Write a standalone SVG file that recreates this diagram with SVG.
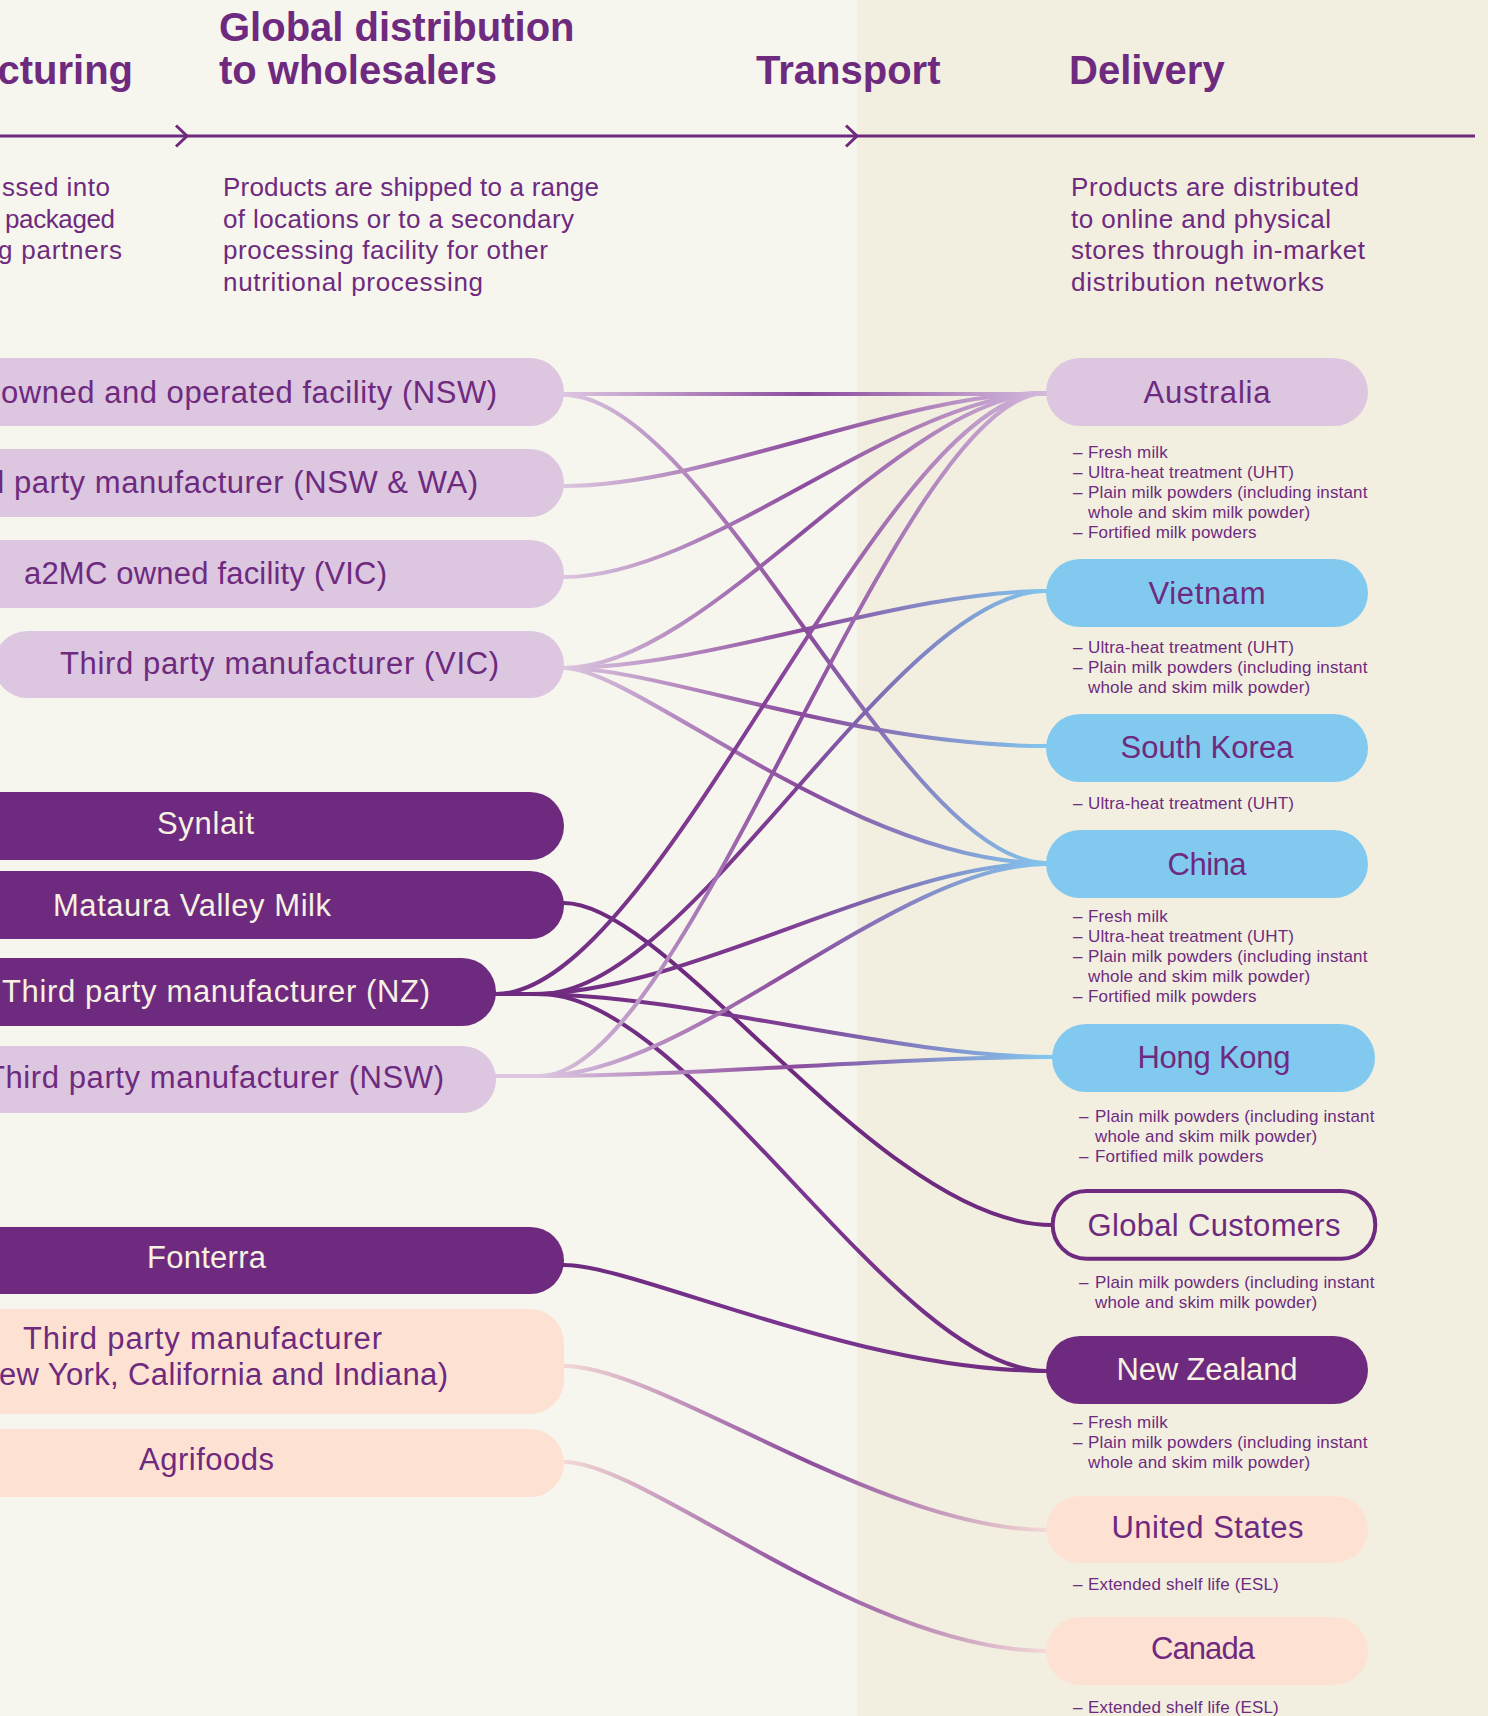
<svg xmlns="http://www.w3.org/2000/svg" width="1488" height="1716" viewBox="0 0 1488 1716">
<defs>
<style>
text{font-family:"Liberation Sans",Arial,sans-serif;fill:#6e2a7e}
.h{font-size:40px;font-weight:bold}
.d{font-size:26px}
.p{font-size:31px}
.pc{font-size:31px;fill:#f6f1e2}
.m{text-anchor:middle}
.li{font-size:17px;letter-spacing:0.15px}
.lav{fill:#dcc6e0}
.blue{fill:#82c9f0}
.dark{fill:#6e2a7e}
.peach{fill:#fde2d3}
.cn{fill:none;stroke-width:4}
.ax{fill:none;stroke:#6e2a7e;stroke-width:3}
</style>
<path id="chev" d="M-11,-10.5 L0,0 L-11,10.5"/>
<linearGradient id="gLL" gradientUnits="userSpaceOnUse" x1="564" y1="0" x2="1046" y2="0"><stop offset="0" stop-color="#dcc6e0"/><stop offset=".5" stop-color="#8b4b9d"/><stop offset="1" stop-color="#d3b9db"/></linearGradient>
<linearGradient id="gLB" gradientUnits="userSpaceOnUse" x1="564" y1="0" x2="1046" y2="0"><stop offset="0" stop-color="#dcc6e0"/><stop offset=".5" stop-color="#8b4b9d"/><stop offset="1" stop-color="#82c6ee"/></linearGradient>
<linearGradient id="gDL" gradientUnits="userSpaceOnUse" x1="496" y1="0" x2="1046" y2="0"><stop offset="0" stop-color="#6e2a7e"/><stop offset=".5" stop-color="#853f98"/><stop offset="1" stop-color="#d3b9db"/></linearGradient>
<linearGradient id="gDB" gradientUnits="userSpaceOnUse" x1="530" y1="0" x2="1046" y2="0"><stop offset="0" stop-color="#6e2a7e"/><stop offset=".5" stop-color="#7f3d93"/><stop offset="1" stop-color="#82c6ee"/></linearGradient>
<linearGradient id="gDD" gradientUnits="userSpaceOnUse" x1="564" y1="0" x2="1046" y2="0"><stop offset="0" stop-color="#6e2a7e"/><stop offset=".5" stop-color="#7b3791"/><stop offset="1" stop-color="#6e2a7e"/></linearGradient>
<linearGradient id="gSL" gradientUnits="userSpaceOnUse" x1="540" y1="0" x2="1046" y2="0"><stop offset="0" stop-color="#dcc6e0"/><stop offset=".5" stop-color="#8b4b9d"/><stop offset="1" stop-color="#d3b9db"/></linearGradient>
<linearGradient id="gSB" gradientUnits="userSpaceOnUse" x1="540" y1="0" x2="1046" y2="0"><stop offset="0" stop-color="#dcc6e0"/><stop offset=".5" stop-color="#8b4b9d"/><stop offset="1" stop-color="#82c6ee"/></linearGradient>
<linearGradient id="gPP" gradientUnits="userSpaceOnUse" x1="564" y1="0" x2="1047" y2="0"><stop offset="0" stop-color="#f4d8d6"/><stop offset=".5" stop-color="#8b4b9d"/><stop offset="1" stop-color="#f4d8d6"/></linearGradient>
</defs>

<rect x="0" y="0" width="857" height="1716" fill="#f6f5ee"/>
<rect x="857" y="0" width="631" height="1716" fill="#f2efe1"/>

<g id="header">
<text class="h" x="133" y="84" text-anchor="end">cturing</text>
<text class="h" x="219" y="41">Global distribution</text>
<text class="h" x="219" y="84">to wholesalers</text>
<text class="h" x="756" y="84">Transport</text>
<text class="h" x="1069" y="84">Delivery</text>
<line class="ax" x1="0" y1="136" x2="1475" y2="136"/>
<use href="#chev" x="187" y="136" class="ax"/>
<use href="#chev" x="857" y="136" class="ax"/>
<text class="d" x="2" y="196" textLength="108">ssed into</text>
<text class="d" x="5" y="228" textLength="110">packaged</text>
<text class="d" x="-2" y="259" textLength="124">g partners</text>
<text class="d" x="223" y="196" textLength="376">Products are shipped to a range</text>
<text class="d" x="223" y="228" textLength="351">of locations or to a secondary</text>
<text class="d" x="223" y="259" textLength="325">processing facility for other</text>
<text class="d" x="223" y="291" textLength="260">nutritional processing</text>
<text class="d" x="1071" y="196" textLength="288">Products are distributed</text>
<text class="d" x="1071" y="228" textLength="260">to online and physical</text>
<text class="d" x="1071" y="259" textLength="294">stores through in-market</text>
<text class="d" x="1071" y="291" textLength="253">distribution networks</text>
</g>

<g id="connectors">
<path class="cn" stroke="url(#gLL)" d="M556,394 L1054,394"/>
<path class="cn" stroke="url(#gLB)" d="M556,395 H564 C709,395 901,863 1046,863 H1054"/>
<path class="cn" stroke="url(#gLL)" d="M556,486 H564 C709,486 901,393 1046,393 H1054"/>
<path class="cn" stroke="url(#gLL)" d="M556,577 H564 C709,577 901,393 1046,393 H1054"/>
<path class="cn" stroke="url(#gLL)" d="M556,668 H564 C709,668 901,393 1046,393 H1054"/>
<path class="cn" stroke="url(#gLB)" d="M556,668 H564 C709,668 901,591 1046,591 H1054"/>
<path class="cn" stroke="url(#gLB)" d="M556,668 H564 C660,668 853,746 1046,746 H1054"/>
<path class="cn" stroke="url(#gLB)" d="M556,668 H564 C636,668 853,863 1046,863 H1054"/>
<path class="cn" stroke="#6e2a7e" d="M556,903 H564 C671,903 881,1225 1052,1225"/>
<path class="cn" stroke="url(#gDL)" d="M488,994 H496 C661,994 881,393 1046,393 H1054"/>
<path class="cn" stroke="url(#gDB)" d="M488,994 H540 C692,994 894,591 1046,591 H1054"/>
<path class="cn" stroke="url(#gDB)" d="M488,994 H530 C687,994 890,863 1046,863 H1054"/>
<path class="cn" stroke="url(#gDB)" d="M488,994 H530 C687,994 895,1057 1052,1057 H1060"/>
<path class="cn" stroke="url(#gDD)" d="M488,994 H540 C692,994 894,1371 1046,1371 H1054"/>
<path class="cn" stroke="url(#gSL)" d="M488,1076 H540 C689,1076 897,393 1046,393 H1054"/>
<path class="cn" stroke="url(#gSB)" d="M488,1076 H540 C692,1076 894,864 1046,864 H1054"/>
<path class="cn" stroke="url(#gSB)" d="M488,1076 H540 C694,1076 898,1057 1052,1057 H1060"/>
<path class="cn" stroke="url(#gDD)" d="M556,1265 H564 C636,1265 854,1371 1047,1371 H1054"/>
<path class="cn" stroke="url(#gPP)" d="M556,1366 H564 C661,1366 878,1530 1047,1530 H1054"/>
<path class="cn" stroke="url(#gPP)" d="M556,1462 H564 C646,1462 863,1651 1047,1651 H1054"/>
</g>

<g id="src-a2mc-nsw"><rect class="lav" x="-60" y="358" width="624" height="68" rx="34"/><text class="p" x="1" y="403" textLength="496">owned and operated facility (NSW)</text></g>
<g id="src-3p-nsw-wa"><rect class="lav" x="-60" y="449" width="624" height="68" rx="34"/><text class="p" x="-13" y="493" textLength="491">d party manufacturer (NSW &amp; WA)</text></g>
<g id="src-a2mc-vic"><rect class="lav" x="-60" y="540" width="624" height="68" rx="34"/><text class="p" x="24" y="584" textLength="363">a2MC owned facility (VIC)</text></g>
<g id="src-3p-vic"><rect class="lav" x="-6" y="631" width="570" height="67" rx="33.5"/><text class="p" x="60" y="674" textLength="439">Third party manufacturer (VIC)</text></g>
<g id="src-synlait"><rect class="dark" x="-60" y="792" width="624" height="68" rx="34"/><text class="pc" x="157" y="834" textLength="97">Synlait</text></g>
<g id="src-mataura"><rect class="dark" x="-60" y="871" width="624" height="68" rx="34"/><text class="pc" x="53" y="916" textLength="278">Mataura Valley Milk</text></g>
<g id="src-3p-nz"><rect class="dark" x="-60" y="958" width="556" height="68" rx="34"/><text class="pc" x="2" y="1002" textLength="428">Third party manufacturer (NZ)</text></g>
<g id="src-3p-nsw"><rect class="lav" x="-60" y="1046" width="556" height="67" rx="33.5"/><text class="p" x="-14" y="1088" textLength="458">Third party manufacturer (NSW)</text></g>
<g id="src-fonterra"><rect class="dark" x="-60" y="1227" width="624" height="67" rx="33.5"/><text class="pc" x="147" y="1268" textLength="119">Fonterra</text></g>
<g id="src-3p-us"><rect class="peach" x="-60" y="1309" width="624" height="105" rx="34"/><text class="p"><tspan x="23" y="1349" textLength="359">Third party manufacturer</tspan><tspan x="-1" y="1385" textLength="449">ew York, California and Indiana)</tspan></text></g>
<g id="src-agrifoods"><rect class="peach" x="-60" y="1429" width="624" height="68" rx="34"/><text class="p" x="139" y="1470" textLength="135">Agrifoods</text></g>

<g id="dst-australia"><rect class="lav" x="1046" y="358" width="322" height="68" rx="34"/><text class="p m" x="1207" y="403" textLength="127">Australia</text>
<text class="li" x="1073" y="458">–</text><text class="li" x="1088" y="458">Fresh milk</text>
<text class="li" x="1073" y="478">–</text><text class="li" x="1088" y="478">Ultra-heat treatment (UHT)</text>
<text class="li" x="1073" y="498">–</text><text class="li" x="1088" y="498">Plain milk powders (including instant</text>
<text class="li" x="1088" y="518">whole and skim milk powder)</text>
<text class="li" x="1073" y="538">–</text><text class="li" x="1088" y="538">Fortified milk powders</text></g>

<g id="dst-vietnam"><rect class="blue" x="1046" y="559" width="322" height="68" rx="34"/><text class="p m" x="1207" y="604" textLength="117">Vietnam</text>
<text class="li" x="1073" y="653">–</text><text class="li" x="1088" y="653">Ultra-heat treatment (UHT)</text>
<text class="li" x="1073" y="673">–</text><text class="li" x="1088" y="673">Plain milk powders (including instant</text>
<text class="li" x="1088" y="693">whole and skim milk powder)</text></g>

<g id="dst-south-korea"><rect class="blue" x="1046" y="714" width="322" height="68" rx="34"/><text class="p m" x="1207" y="758" textLength="173">South Korea</text>
<text class="li" x="1073" y="809">–</text><text class="li" x="1088" y="809">Ultra-heat treatment (UHT)</text></g>

<g id="dst-china"><rect class="blue" x="1046" y="830" width="322" height="68" rx="34"/><text class="p m" x="1207" y="875" textLength="79">China</text>
<text class="li" x="1073" y="922">–</text><text class="li" x="1088" y="922">Fresh milk</text>
<text class="li" x="1073" y="942">–</text><text class="li" x="1088" y="942">Ultra-heat treatment (UHT)</text>
<text class="li" x="1073" y="962">–</text><text class="li" x="1088" y="962">Plain milk powders (including instant</text>
<text class="li" x="1088" y="982">whole and skim milk powder)</text>
<text class="li" x="1073" y="1002">–</text><text class="li" x="1088" y="1002">Fortified milk powders</text></g>

<g id="dst-hong-kong"><rect class="blue" x="1052" y="1024" width="323" height="68" rx="34"/><text class="p m" x="1214" y="1068" textLength="153">Hong Kong</text>
<text class="li" x="1079" y="1122">–</text><text class="li" x="1095" y="1122">Plain milk powders (including instant</text>
<text class="li" x="1095" y="1142">whole and skim milk powder)</text>
<text class="li" x="1079" y="1162">–</text><text class="li" x="1095" y="1162">Fortified milk powders</text></g>

<g id="dst-global"><rect x="1052.7" y="1191" width="322.6" height="67.7" rx="33.8" fill="#f2efe1" stroke="#6e2a7e" stroke-width="4"/><text class="p m" x="1214" y="1236" textLength="253">Global Customers</text>
<text class="li" x="1079" y="1288">–</text><text class="li" x="1095" y="1288">Plain milk powders (including instant</text>
<text class="li" x="1095" y="1308">whole and skim milk powder)</text></g>

<g id="dst-new-zealand"><rect class="dark" x="1046" y="1336" width="322" height="68" rx="34"/><text class="pc m" x="1207" y="1380" textLength="181">New Zealand</text>
<text class="li" x="1073" y="1428">–</text><text class="li" x="1088" y="1428">Fresh milk</text>
<text class="li" x="1073" y="1448">–</text><text class="li" x="1088" y="1448">Plain milk powders (including instant</text>
<text class="li" x="1088" y="1468">whole and skim milk powder)</text></g>

<g id="dst-united-states"><rect class="peach" x="1046" y="1496" width="322" height="67" rx="33.5"/><text class="p m" x="1207.5" y="1538" textLength="192">United States</text>
<text class="li" x="1073" y="1590">–</text><text class="li" x="1088" y="1590">Extended shelf life (ESL)</text></g>

<g id="dst-canada"><rect class="peach" x="1046" y="1617" width="322" height="68" rx="34"/><text class="p m" x="1203" y="1659" textLength="104">Canada</text>
<text class="li" x="1073" y="1713">–</text><text class="li" x="1088" y="1713">Extended shelf life (ESL)</text></g>
</svg>
